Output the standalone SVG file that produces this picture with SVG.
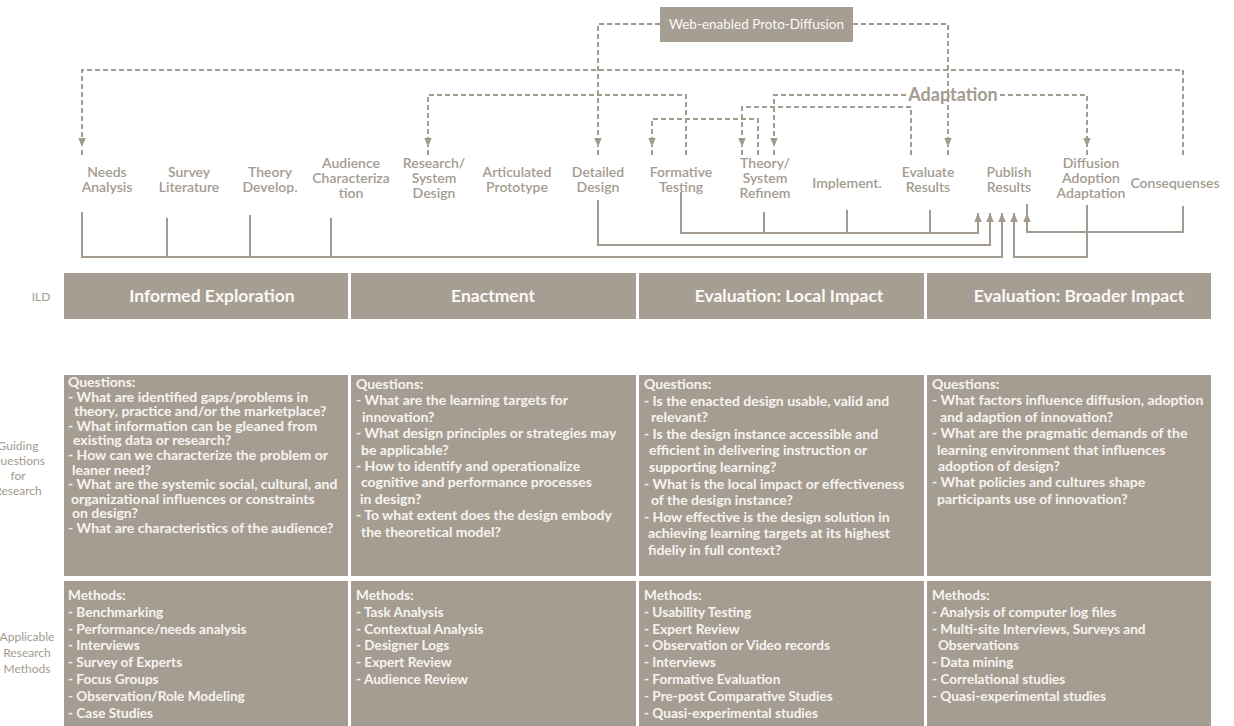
<svg xmlns="http://www.w3.org/2000/svg" width="1234" height="726" viewBox="0 0 1234 726">
<defs>
<style>
.lbl{font-family:Lato,"Noto Sans",sans-serif;font-size:14px;font-weight:600;fill:#a39b90;text-anchor:middle}
.row{font-family:Lato,"Noto Sans",sans-serif;font-size:12px;fill:#a39b90;text-anchor:middle}
.bar{fill:#a79e93}
.bartxt{font-family:Lato,"Noto Sans",sans-serif;font-size:17.5px;font-weight:700;fill:#fbf9f6;text-anchor:middle}
.box{fill:#a69d92}
.q{font-family:Lato,"Noto Sans",sans-serif;font-size:14px;font-weight:700;fill:#f7f4f0}
.m{font-family:Lato,"Noto Sans",sans-serif;font-size:13.6px;font-weight:700;fill:#f7f4f0}
.dash{fill:none;stroke:#a39b90;stroke-width:2;stroke-dasharray:5 3}
.solid{fill:none;stroke:#a39b90;stroke-width:2}
</style>
<marker id="ah" viewBox="0 0 10 10" refX="10" refY="5" markerWidth="4.5" markerHeight="4.5" orient="auto" markerUnits="strokeWidth">
<path d="M0,0.8 L10,5 L0,9.2 z" fill="#a39b90"/>
</marker>
</defs>
<rect width="1234" height="726" fill="#ffffff"/>

<!-- connectors -->
<g id="connectors">
  <!-- dashed feedback loops -->
  <path class="dash" d="M660,24 H598 V147" marker-end="url(#ah)"/>
  <path class="dash" d="M853,24 H948 V147" marker-end="url(#ah)"/>
  <path class="dash" d="M1183,155 V70 H82 V147" marker-end="url(#ah)"/>
  <path class="dash" d="M686,155 V95 H428 V147" marker-end="url(#ah)"/>
  <path class="dash" d="M906,95 H774 V147" marker-end="url(#ah)"/>
  <path class="dash" d="M1000,95 H1087 V147" marker-end="url(#ah)"/>
  <path class="dash" d="M911,155 V107 H742 V147" marker-end="url(#ah)"/>
  <path class="dash" d="M758,155 V119 H652 V147" marker-end="url(#ah)"/>
  <!-- short tails below the down arrows -->
  <path class="dash" d="M598,150 V155 M948,150 V155 M82,150 V155 M428,150 V155 M774,150 V155 M1087,150 V155 M742,150 V155 M652,150 V155"/>
  <!-- solid collector lines -->
  <path class="solid" d="M82,212 V257 H1002 V213" marker-end="url(#ah)"/>
  <path class="solid" d="M167,218 V257 M250,215 V257 M331,218 V257"/>
  <path class="solid" d="M598,200 V245 H990 V213" marker-end="url(#ah)"/>
  <path class="solid" d="M681,192 V233 H978 V213" marker-end="url(#ah)"/>
  <path class="solid" d="M764,212 V233 M847,210 V233 M930,210 V233"/>
  <path class="solid" d="M1087,205 V257 H1014 V213" marker-end="url(#ah)"/>
  <path class="solid" d="M1183,206 V232 H1027 V213" marker-end="url(#ah)"/>
  <path class="solid" d="M1027,213 V204"/>
</g>

<!-- top labels -->
<g id="web-proto-diffusion">
  <rect x="660" y="7" width="193" height="35" fill="#a79e93"/>
  <text x="756.5" y="29" style="font-family:Lato,'Noto Sans',sans-serif;font-size:13.5px;fill:#fbf9f6;text-anchor:middle">Web-enabled Proto-Diffusion</text>
</g>
<g id="adaptation">
  <text x="953" y="101" style="font-family:Lato,'Noto Sans',sans-serif;font-size:18px;font-weight:700;fill:#a39b90;text-anchor:middle">Adaptation</text>
</g>

<!-- process steps -->
<g id="needs-analysis"><text class="lbl" x="107" y="177">Needs</text><text class="lbl" x="107" y="192">Analysis</text></g>
<g id="survey-literature"><text class="lbl" x="189" y="177">Survey</text><text class="lbl" x="189" y="192">Literature</text></g>
<g id="theory-develop"><text class="lbl" x="270" y="177">Theory</text><text class="lbl" x="270" y="192">Develop.</text></g>
<g id="audience-characterization"><text class="lbl" x="351" y="168">Audience</text><text class="lbl" x="351" y="183">Characteriza</text><text class="lbl" x="351" y="198">tion</text></g>
<g id="research-system-design"><text class="lbl" x="434" y="168">Research/</text><text class="lbl" x="434" y="183">System</text><text class="lbl" x="434" y="198">Design</text></g>
<g id="articulated-prototype"><text class="lbl" x="517" y="177">Articulated</text><text class="lbl" x="517" y="192">Prototype</text></g>
<g id="detailed-design"><text class="lbl" x="598" y="177">Detailed</text><text class="lbl" x="598" y="192">Design</text></g>
<g id="formative-testing"><text class="lbl" x="681" y="177">Formative</text><text class="lbl" x="681" y="192">Testing</text></g>
<g id="theory-system-refinement"><text class="lbl" x="765" y="168">Theory/</text><text class="lbl" x="765" y="183">System</text><text class="lbl" x="765" y="198">Refinem</text></g>
<g id="implement"><text class="lbl" x="847" y="188">Implement.</text></g>
<g id="evaluate-results"><text class="lbl" x="928" y="177">Evaluate</text><text class="lbl" x="928" y="192">Results</text></g>
<g id="publish-results"><text class="lbl" x="1009" y="177">Publish</text><text class="lbl" x="1009" y="192">Results</text></g>
<g id="diffusion-adoption-adaptation"><text class="lbl" x="1091" y="168">Diffusion</text><text class="lbl" x="1091" y="183">Adoption</text><text class="lbl" x="1091" y="198">Adaptation</text></g>
<g id="consequenses"><text class="lbl" x="1175" y="188">Consequenses</text></g>

<!-- row labels -->
<g id="row-ild"><text class="row" x="41" y="301">ILD</text></g>
<g id="row-guiding"><text class="row" x="18" y="450">Guiding</text><text class="row" x="18" y="465">Questions</text><text class="row" x="18" y="480">for</text><text class="row" x="18" y="495">Research</text></g>
<g id="row-methods"><text class="row" x="27" y="641">Applicable</text><text class="row" x="27" y="657">Research</text><text class="row" x="27" y="673">Methods</text></g>

<!-- phase bars -->
<g id="phase-informed-exploration"><rect class="bar" x="64" y="273" width="284" height="46"/><text class="bartxt" x="212" y="302">Informed Exploration</text></g>
<g id="phase-enactment"><rect class="bar" x="351" y="273" width="285" height="46"/><text class="bartxt" x="493" y="302">Enactment</text></g>
<g id="phase-local-impact"><rect class="bar" x="639" y="273" width="285" height="46"/><text class="bartxt" x="789" y="302">Evaluation: Local Impact</text></g>
<g id="phase-broader-impact"><rect class="bar" x="927" y="273" width="284" height="46"/><text class="bartxt" x="1079" y="302">Evaluation: Broader Impact</text></g>

<!-- guiding questions -->
<g id="questions-exploration">
  <rect class="box" x="64" y="375" width="284" height="201"/>
  <text class="q">
    <tspan x="68" y="387">Questions:</tspan>
    <tspan x="68" dy="14.6">- What are identified gaps/problems in</tspan>
    <tspan x="74" dy="14.6">theory, practice and/or the marketplace?</tspan>
    <tspan x="68" dy="14.6">- What information can be gleaned from</tspan>
    <tspan x="73" dy="14.6">existing data or research?</tspan>
    <tspan x="68" dy="14.6">- How can we characterize the problem or</tspan>
    <tspan x="72" dy="14.6">leaner need?</tspan>
    <tspan x="68" dy="14.6">- What are the systemic social, cultural, and</tspan>
    <tspan x="71" dy="14.6">organizational influences or constraints</tspan>
    <tspan x="72" dy="14.6">on design?</tspan>
    <tspan x="68" dy="14.6">- What are characteristics of the audience?</tspan>
  </text>
</g>
<g id="questions-enactment">
  <rect class="box" x="351" y="375" width="285" height="201"/>
  <text class="q">
    <tspan x="356" y="389">Questions:</tspan>
    <tspan x="356" dy="16.4">- What are the learning targets for</tspan>
    <tspan x="362" dy="16.4">innovation?</tspan>
    <tspan x="356" dy="16.4">- What design principles or strategies may</tspan>
    <tspan x="361" dy="16.4">be applicable?</tspan>
    <tspan x="356" dy="16.4">- How to identify and operationalize</tspan>
    <tspan x="361" dy="16.4">cognitive and performance processes</tspan>
    <tspan x="360" dy="16.4">in design?</tspan>
    <tspan x="356" dy="16.4">- To what extent does the design embody</tspan>
    <tspan x="361" dy="16.4">the theoretical model?</tspan>
  </text>
</g>
<g id="questions-local-impact">
  <rect class="box" x="639" y="375" width="285" height="201"/>
  <text class="q">
    <tspan x="644" y="389">Questions:</tspan>
    <tspan x="644" dy="16.6">- Is the enacted design usable, valid and</tspan>
    <tspan x="651" dy="16.6">relevant?</tspan>
    <tspan x="644" dy="16.6">- Is the design instance accessible and</tspan>
    <tspan x="649" dy="16.6">efficient in delivering instruction or</tspan>
    <tspan x="649" dy="16.6">supporting learning?</tspan>
    <tspan x="644" dy="16.6">- What is the local impact or effectiveness</tspan>
    <tspan x="651" dy="16.6">of the design instance?</tspan>
    <tspan x="644" dy="16.6">- How effective is the design solution in</tspan>
    <tspan x="648" dy="16.6">achieving learning targets at its highest</tspan>
    <tspan x="648" dy="16.6">fideliy in full context?</tspan>
  </text>
</g>
<g id="questions-broader-impact">
  <rect class="box" x="927" y="375" width="284" height="201"/>
  <text class="q">
    <tspan x="932" y="389">Questions:</tspan>
    <tspan x="932" dy="16.4">- What factors influence diffusion, adoption</tspan>
    <tspan x="940" dy="16.4">and adaption of innovation?</tspan>
    <tspan x="932" dy="16.4">- What are the pragmatic demands of the</tspan>
    <tspan x="937" dy="16.4">learning environment that influences</tspan>
    <tspan x="938" dy="16.4">adoption of design?</tspan>
    <tspan x="932" dy="16.4">- What policies and cultures shape</tspan>
    <tspan x="937" dy="16.4">participants use of innovation?</tspan>
  </text>
</g>

<!-- research methods -->
<g id="methods-exploration">
  <rect class="box" x="64" y="581" width="284" height="145"/>
  <text class="m">
    <tspan x="68" y="600">Methods:</tspan>
    <tspan x="68" dy="16.8">- Benchmarking</tspan>
    <tspan x="68" dy="16.8">- Performance/needs analysis</tspan>
    <tspan x="68" dy="16.8">- Interviews</tspan>
    <tspan x="68" dy="16.8">- Survey of Experts</tspan>
    <tspan x="68" dy="16.8">- Focus Groups</tspan>
    <tspan x="68" dy="16.8">- Observation/Role Modeling</tspan>
    <tspan x="68" dy="16.8">- Case Studies</tspan>
  </text>
</g>
<g id="methods-enactment">
  <rect class="box" x="351" y="581" width="285" height="145"/>
  <text class="m">
    <tspan x="356" y="600">Methods:</tspan>
    <tspan x="356" dy="16.8">- Task Analysis</tspan>
    <tspan x="356" dy="16.8">- Contextual Analysis</tspan>
    <tspan x="356" dy="16.8">- Designer Logs</tspan>
    <tspan x="356" dy="16.8">- Expert Review</tspan>
    <tspan x="356" dy="16.8">- Audience Review</tspan>
  </text>
</g>
<g id="methods-local-impact">
  <rect class="box" x="639" y="581" width="285" height="145"/>
  <text class="m">
    <tspan x="644" y="600">Methods:</tspan>
    <tspan x="644" dy="16.8">- Usability Testing</tspan>
    <tspan x="644" dy="16.8">- Expert Review</tspan>
    <tspan x="644" dy="16.8">- Observation or Video records</tspan>
    <tspan x="644" dy="16.8">- Interviews</tspan>
    <tspan x="644" dy="16.8">- Formative Evaluation</tspan>
    <tspan x="644" dy="16.8">- Pre-post Comparative Studies</tspan>
    <tspan x="644" dy="16.8">- Quasi-experimental studies</tspan>
  </text>
</g>
<g id="methods-broader-impact">
  <rect class="box" x="927" y="581" width="284" height="145"/>
  <text class="m">
    <tspan x="932" y="600">Methods:</tspan>
    <tspan x="932" dy="16.8">- Analysis of computer log files</tspan>
    <tspan x="932" dy="16.8">- Multi-site Interviews, Surveys and</tspan>
    <tspan x="938" dy="16.8">Observations</tspan>
    <tspan x="932" dy="16.8">- Data mining</tspan>
    <tspan x="932" dy="16.8">- Correlational studies</tspan>
    <tspan x="932" dy="16.8">- Quasi-experimental studies</tspan>
  </text>
</g>
</svg>
